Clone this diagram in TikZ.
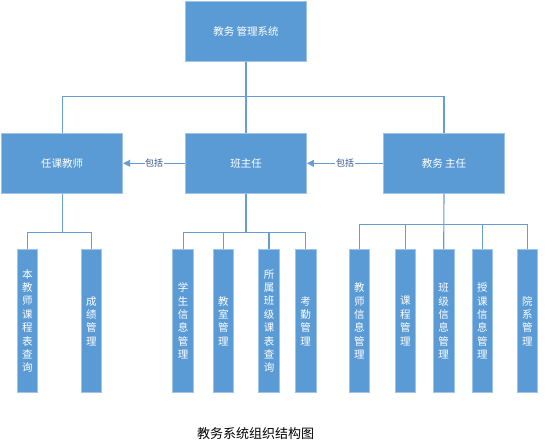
\documentclass[tikz,border=0pt]{standalone}
\usepackage{fontspec}
\setmainfont{Noto Sans CJK SC}
\usetikzlibrary{arrows.meta}
\definecolor{boxblue}{RGB}{91,155,213}
\definecolor{boxedge}{RGB}{160,196,232}
\definecolor{linecol}{RGB}{104,156,212}
\definecolor{labcol}{RGB}{46,84,140}
\tikzset{
  bigbox/.style={rectangle, fill=boxblue, draw=boxedge, line width=0.9pt, minimum width=121pt, minimum height=60pt, inner sep=0pt, text=white, font=\fontsize{10.5}{12}\selectfont},
  leaf/.style={rectangle, fill=boxblue, draw=boxedge, line width=0.9pt, minimum width=20.7pt, minimum height=143.4pt, inner sep=0pt, text=white, align=center, font=\fontsize{10.5}{13.4}\selectfont},
  conn/.style={draw=linecol, line width=1.1pt},
  incl/.style={draw=linecol, line width=1.1pt, -{Triangle[length=7pt,width=7pt]}},
  lab/.style={fill=white, inner sep=0.6pt, text=labcol, font=\fontsize{9}{10}\selectfont},
}
\begin{document}
\begin{tikzpicture}[x=1pt,y=-1pt]
\useasboundingbox[fill=white] (0,0) rectangle (554,447);
\node[bigbox] (top) at (246,31.7) {教务 管理系统};
\node[bigbox] (rk) at (62.2,163.3) {任课教师};
\node[bigbox] (bz) at (246,163.3) {班主任};
\node[bigbox] (jw) at (444,163.3) {教务 主任};

\node[leaf] (l1) at (27.3,321) {本\\教\\师\\课\\程\\表\\查\\询};
\node[leaf] (l2) at (91.3,321) {成\\绩\\管\\理};
\node[leaf] (m1) at (183.2,321) {学\\生\\信\\息\\管\\理};
\node[leaf] (m2) at (223.3,321) {教\\室\\管\\理};
\node[leaf] (m3) at (269,321) {所\\属\\班\\级\\课\\表\\查\\询};
\node[leaf] (m4) at (305.7,321) {考\\勤\\管\\理};
\node[leaf] (r1) at (359.3,321) {教\\师\\信\\息\\管\\理};
\node[leaf] (r2) at (405.3,321) {课\\程\\管\\理};
\node[leaf] (r3) at (443.7,321) {班\\级\\信\\息\\管\\理};
\node[leaf] (r4) at (482.3,321) {授\\课\\信\\息\\管\\理};
\node[leaf] (r5) at (527.3,321) {院\\系\\管\\理};

\node[font=\fontsize{13}{15}\selectfont] (cap) at (255.5,433.3) {教务系统组织结构图};

% top level
\draw[conn] (rk.north) |- (top.south |- 0,96.7) -| (jw.north);
\draw[conn] (top.south) -- (bz.north);

% include arrows
\draw[incl] (bz.west) -- node[lab] {包括} (rk.east);
\draw[incl] (jw.west) -- node[lab] {包括} (bz.east);

% left group
\draw[conn] (l1.north) |- (rk.south |- 0,232.7) -| (l2.north);
\draw[conn] (rk.south) -- (rk.south |- 0,232.7);
% middle group
\draw[conn] (m1.north) |- (bz.south |- 0,232.7) -| (m4.north);
\draw[conn] (bz.south) -- (bz.south |- 0,232.7);
\draw[conn] (m2.north) -- (m2.north |- 0,232.7);
\draw[conn] (m3.north) -- (m3.north |- 0,232.7);
% right group
\draw[conn] (r1.north) |- (jw.south |- 0,224.3) -| (r5.north);
\draw[conn] (jw.south) -- (r3.north);
\draw[conn] (r2.north) -- (r2.north |- 0,224.3);
\draw[conn] (r4.north) -- (r4.north |- 0,224.3);
\end{tikzpicture}
\end{document}
